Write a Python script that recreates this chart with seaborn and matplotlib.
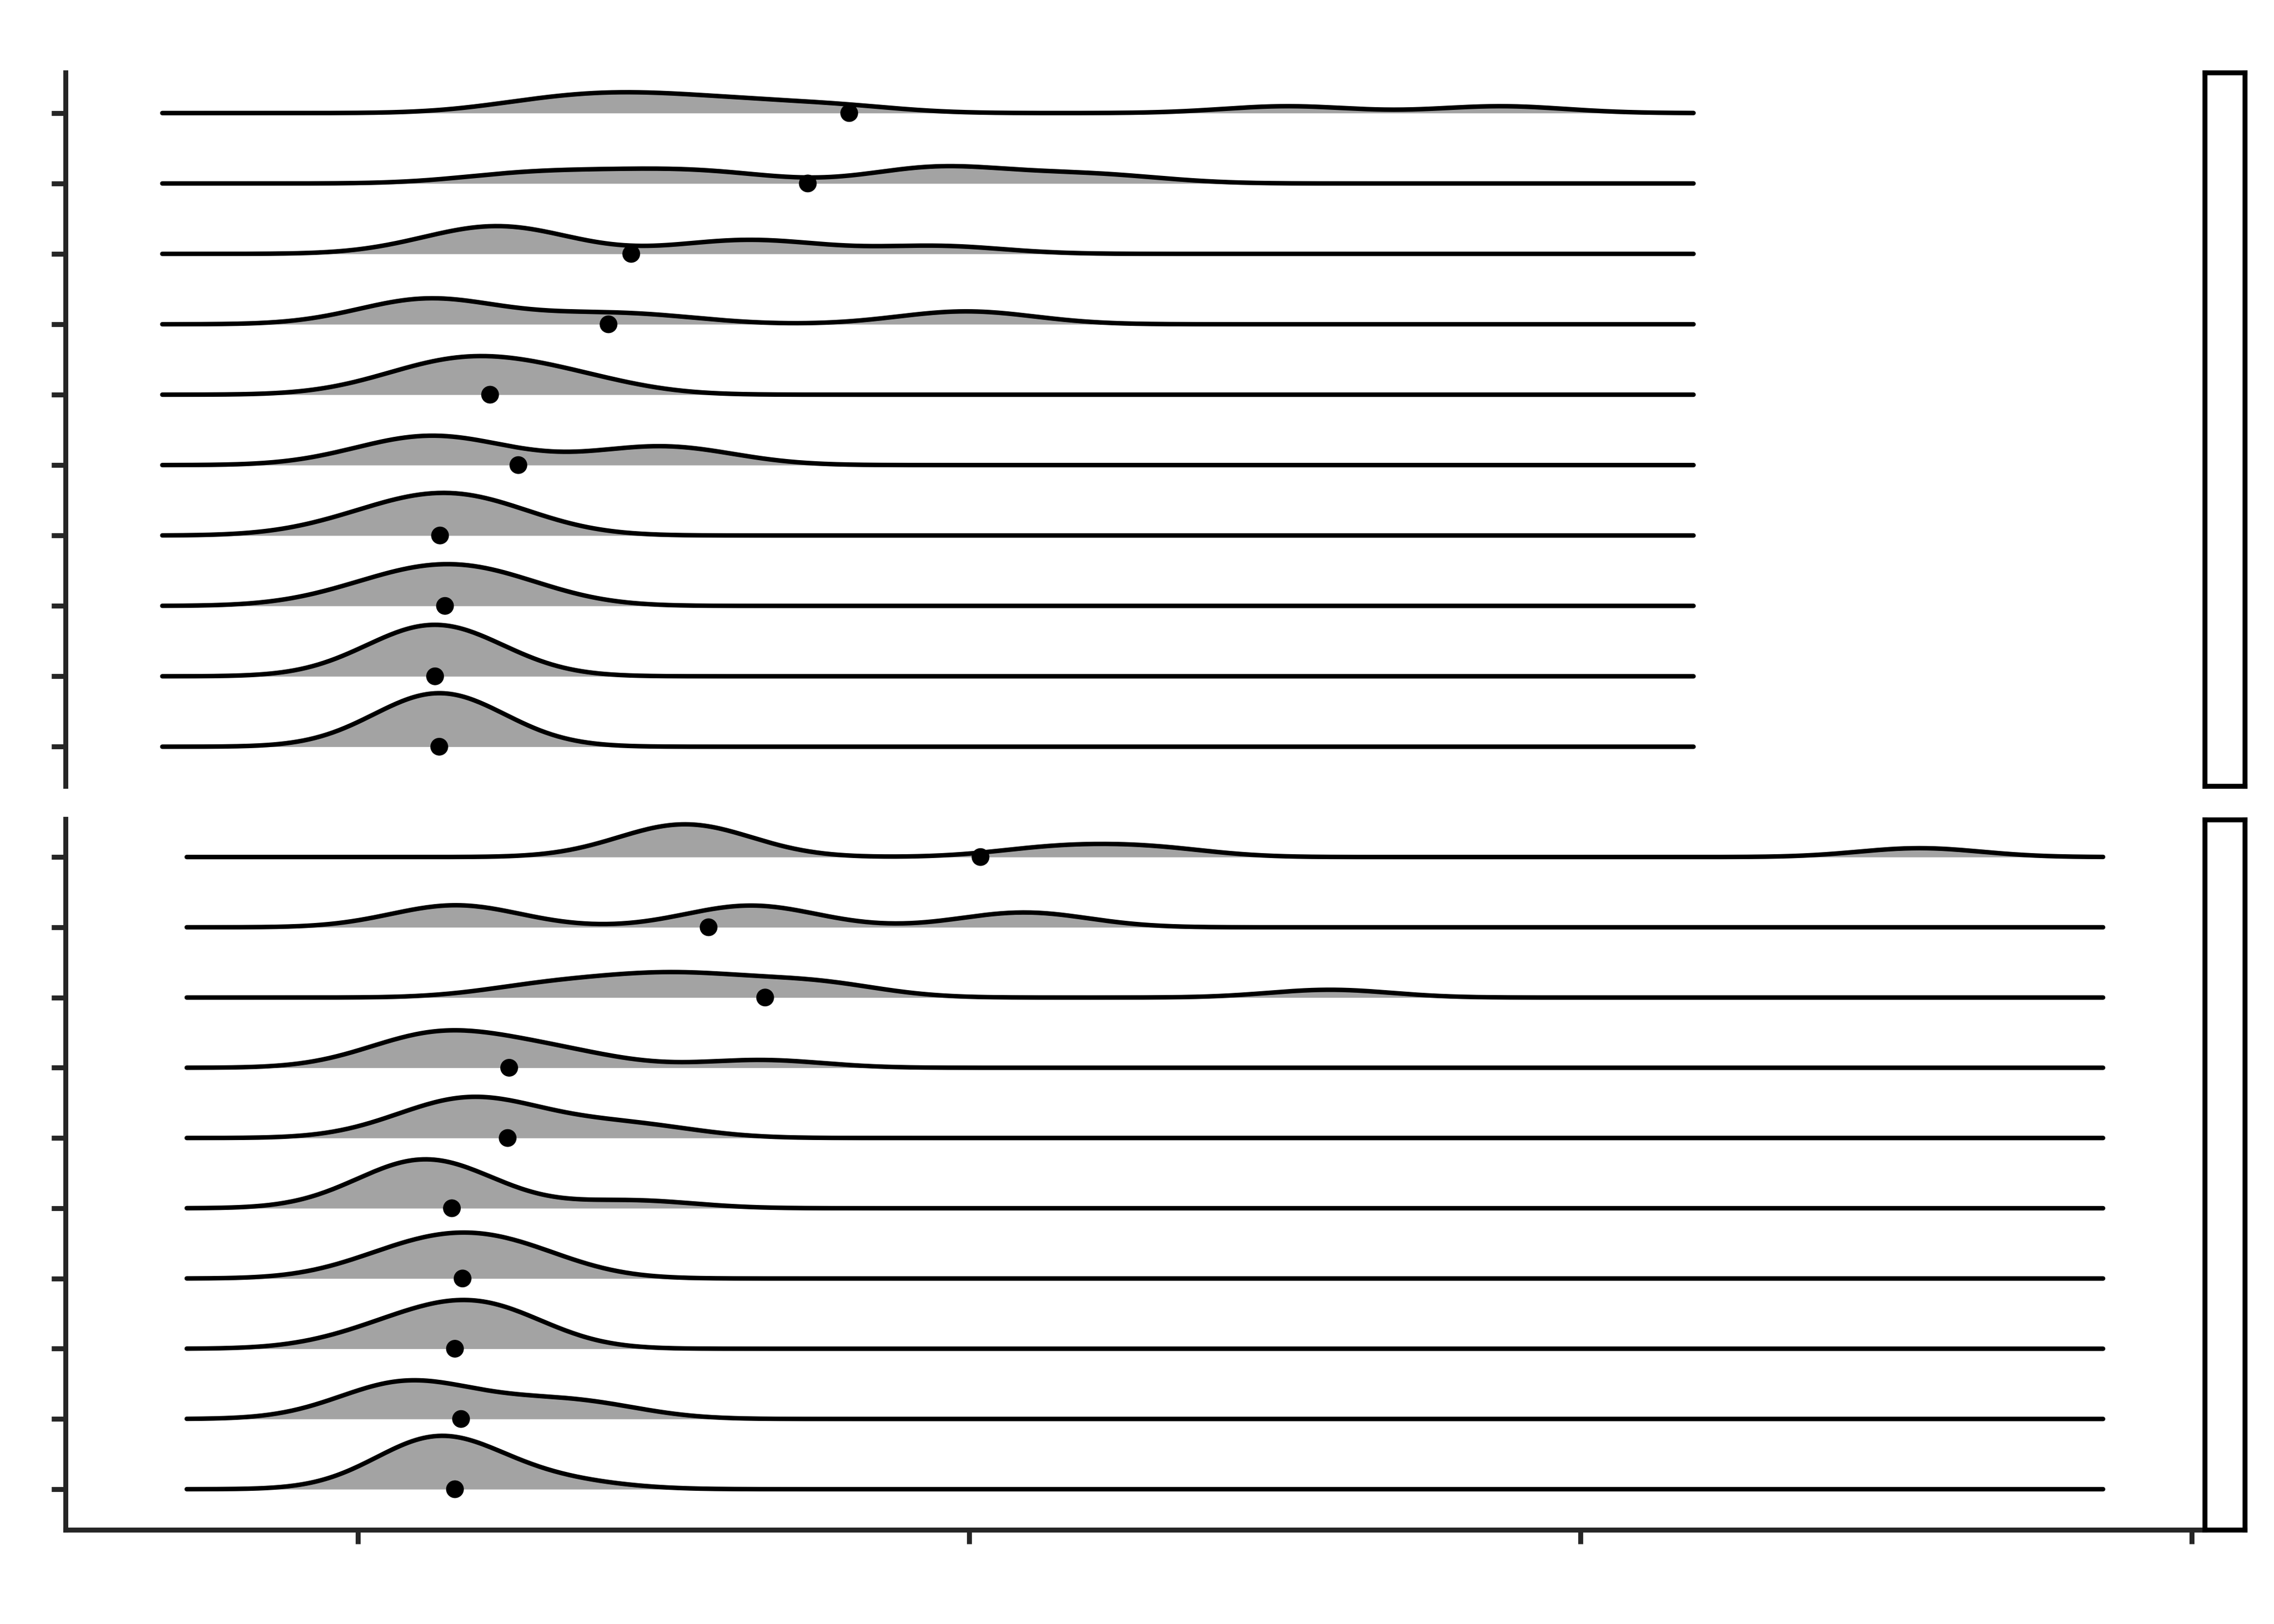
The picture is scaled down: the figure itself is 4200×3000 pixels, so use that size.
import numpy as np
import pandas as pd
import matplotlib
matplotlib.use("Agg")
import matplotlib.pyplot as plt
import matplotlib.transforms as mtransforms
import seaborn as sns

# observations per ridge, listed from the top ridge down
upper_groups = [
    [12.8, 13.8, 14.4, 15.3, 16.3, 17.8, 25.2, 28.7],
    [12.4, 13.3, 14.4, 15.3, 16.1, 19.1, 19.5, 19.8, 21.3, 22.4],
    [11.5, 12.1, 12.5, 12.9, 15.9, 16.9, 19.5],
    [10.6, 11.0, 11.3, 11.7, 13.5, 14.8, 19.6, 20.3],
    [10.7, 11.2, 11.6, 11.9, 12.2, 12.6, 13.3, 13.8],
    [10.4, 10.8, 11.2, 11.6, 12.1, 14.4, 15.0, 15.5],
    [9.95, 10.5, 11.0, 11.3, 11.5, 11.8, 12.1, 12.6],
    [10.0, 10.6, 11.0, 11.3, 11.6, 11.9, 12.3, 12.7],
    [10.7, 10.9, 11.05, 11.2, 11.3, 11.45, 11.6, 11.9],
    [11.0, 11.1, 11.2, 11.3, 11.4, 11.5, 11.55, 11.6],
]
lower_groups = [
    [14.8, 15.2, 15.5, 15.9, 21.4, 22.95, 35.55],
    [11.2, 11.6, 12.0, 16.0, 16.4, 16.9, 20.6, 21.2],
    [12.8, 13.8, 14.7, 15.3, 15.9, 17.1, 17.8, 25.9],
    [10.6, 11.0, 11.3, 11.7, 12.1, 12.9, 13.6, 16.6],
    [10.9, 11.4, 11.7, 12.0, 12.3, 12.6, 13.9, 14.8],
    [10.4, 10.7, 10.9, 11.1, 11.3, 11.5, 11.9, 14.5],
    [10.4, 10.8, 11.2, 11.6, 11.9, 12.2, 12.6, 13.0],
    [10.2, 10.8, 11.2, 11.6, 11.9, 12.2, 12.4, 12.4],
    [10.2, 10.5, 10.8, 11.0, 11.3, 12.4, 13.4, 13.9],
    [11.0, 11.1, 11.2, 11.3, 11.4, 11.5, 11.9, 13.3],
]
bandwidths = {"upper": 1.05, "lower": 1.0}
x_ticks = [10, 20, 30, 40]

rows = []
for panel, groups in (("upper", upper_groups), ("lower", lower_groups)):
    for k, vals in enumerate(groups):
        for v in vals:
            rows.append({"panel": panel, "row": len(groups) - 1 - k, "value": v})
df = pd.DataFrame(rows)

FILL = "#A3A3A3"
sns.set_style("ticks")

fig = plt.figure(figsize=(14, 10), dpi=300)
ax_top = fig.add_axes([0.0287, 0.5161, 0.9388, 0.4393])
ax_bot = fig.add_axes([0.0287, 0.0580, 0.9388, 0.4375])
panel_axes = {"upper": ax_top, "lower": ax_bot}
ylims = {"upper": (-0.556, 9.577), "lower": (-0.578, 9.537)}

# density range per panel, like ggridges: data range +/- 3 bandwidths
ranges = {}
for panel, d in df.groupby("panel"):
    bw = bandwidths[panel]
    ranges[panel] = (d["value"].min() - 3 * bw, d["value"].max() + 3 * bw)

lo_all = min(r[0] for r in ranges.values())
hi_all = max(r[1] for r in ranges.values())
pad = 0.05 * (hi_all - lo_all)
xlim = (lo_all - pad, hi_all + pad)

ridge_axes = {"upper": [], "lower": []}
for panel, ax in panel_axes.items():
    bw = bandwidths[panel]
    lo, hi = ranges[panel]
    trans = mtransforms.blended_transform_factory(ax.transAxes, ax.transData)
    d = df[df["panel"] == panel]
    for row, g in d.groupby("row"):
        vals = g["value"].to_numpy()
        adj = bw / (vals.std(ddof=1) * len(vals) ** -0.2)
        rax = ax.inset_axes([0, row, 1, 1], transform=trans)
        sns.kdeplot(x=vals, ax=rax, bw_adjust=adj, cut=80, clip=(lo, hi),
                    gridsize=512, fill=True, color=FILL, alpha=1, linewidth=0)
        sns.kdeplot(x=vals, ax=rax, bw_adjust=adj, cut=80, clip=(lo, hi),
                    gridsize=512, color="black", linewidth=2.0,
                    solid_capstyle="round", clip_on=False)
        # group mean marked on the baseline
        sns.scatterplot(x=[vals.mean()], y=[0], ax=rax, color="black", s=62,
                        edgecolor="none", clip_on=False, zorder=5)
        rax.set_xlim(*xlim)
        rax.set_xlabel("")
        rax.set_ylabel("")
        rax.set_xticks([])
        rax.set_yticks([])
        rax.set_axis_off()
        ridge_axes[panel].append(rax)

# height scale: tallest ridge in each panel fills ~3/4 of the row
for panel, raxes in ridge_axes.items():
    dmax = max(r.lines[0].get_ydata().max() for r in raxes)
    for rax in raxes:
        rax.set_ylim(0, dmax / 0.76)

for panel, ax in panel_axes.items():
    ax.set_xlim(*xlim)
    ax.set_ylim(*ylims[panel])
    ax.set_yticks(range(10))
    ax.set_xticks(x_ticks)
    ax.tick_params(labelleft=False, labelbottom=False)
    ax.spines["top"].set_visible(False)
    ax.spines["right"].set_visible(False)
    ax.spines["left"].set_linewidth(2.2)
    ax.spines["bottom"].set_linewidth(2.2)
    ax.tick_params(length=6.2, width=2.2, color="#262626", direction="out")
    ax.patch.set_alpha(0)

ax_top.spines["bottom"].set_visible(False)
ax_top.tick_params(axis="x", bottom=False)

# empty facet strips on the right
for y0, h in ((0.5161, 0.4393), (0.0580, 0.4375)):
    sax = fig.add_axes([0.9695, y0, 0.0177, h])
    sax.set_xticks([])
    sax.set_yticks([])
    for sp in sax.spines.values():
        sp.set_linewidth(2.2)
        sp.set_color("black")

fig.savefig("out.png", dpi=300)
